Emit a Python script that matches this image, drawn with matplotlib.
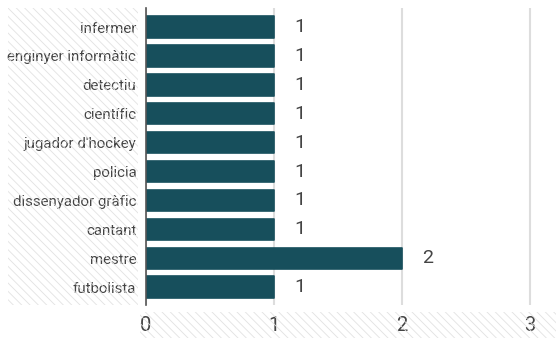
import matplotlib
matplotlib.use("Agg")
import matplotlib.pyplot as plt
from matplotlib.patches import Rectangle

categories = ["infermer", "enginyer informàtic", "detectiu", "científic",
              "jugador d'hockey", "policia", "dissenyador gràfic", "cantant",
              "mestre", "futbolista"]
values = [1, 1, 1, 1, 1, 1, 1, 1, 2, 1]
xticks = [0, 1, 2, 3]

plt.rcParams['font.family'] = ['Roboto', 'DejaVu Sans']
plt.rcParams['hatch.linewidth'] = 0.6
plt.rcParams['hatch.color'] = '#e2e2e2'

W, H = 556, 338
fig = plt.figure(figsize=(W/100, H/100), dpi=100)

# hatched background areas
fig.patches.append(Rectangle((8/W, (H-305)/H), (138-8)/W, (305-8)/H,
                             transform=fig.transFigure, fill=False,
                             hatch='\\\\\\\\', linewidth=0, edgecolor='#e2e2e2'))
fig.patches.append(Rectangle((140/W, 0), (W-140)/W, (H-312)/H,
                             transform=fig.transFigure, fill=False,
                             hatch='\\\\\\\\', linewidth=0, edgecolor='#e2e2e2'))

ax = fig.add_axes([146/W, (H-305)/H, (W-146)/W, (305-8)/H])
ax.set_facecolor('white')
pos = list(range(len(categories)))
ax.barh(pos, values, height=0.74, color='#174f5c', edgecolor='#174f5c',
        linewidth=1.2, joinstyle='round', zorder=3)
for p, v in zip(pos, values):
    ax.text(v + 0.16, p, str(v), va='center', ha='left', fontsize=14, color='#444444')

ax.set_xlim(0, 410/128)
ax.set_ylim(len(categories) - 1 + 0.62, -0.66)
ax.set_yticks(pos)
ax.set_yticklabels(categories, fontsize=10.8, color='#444444')
ax.set_xticks(xticks)
ax.set_xticklabels([str(t) for t in xticks], fontsize=14.5, color='#444444')
ax.tick_params(axis='y', length=0, pad=7)
ax.tick_params(axis='x', length=0, pad=8)
ax.grid(axis='x', color='#dddddd', linewidth=1.5, zorder=0)
for s in ['top', 'right', 'bottom']:
    ax.spines[s].set_visible(False)
ax.spines['left'].set_color('#555555')
ax.spines['left'].set_linewidth(1.2)
ax.spines['left'].set_zorder(4)

fig.savefig('out.png', dpi=100)
